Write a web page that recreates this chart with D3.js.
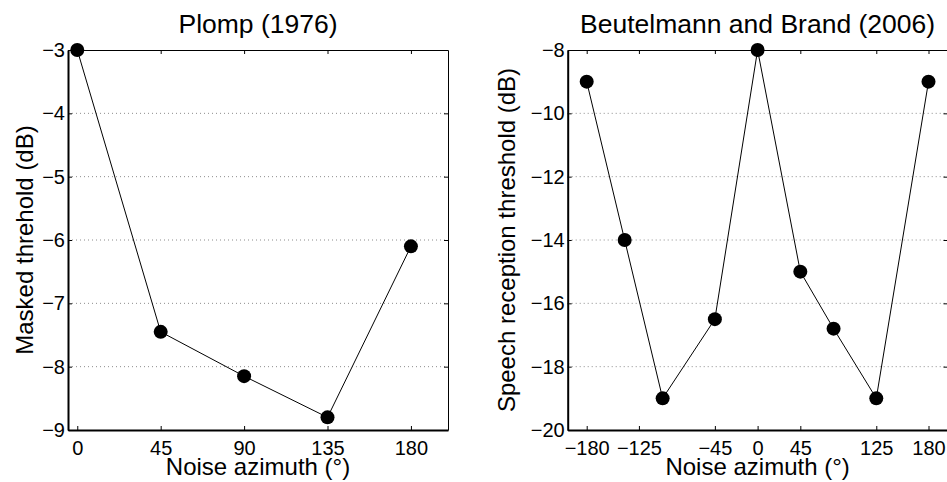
<!DOCTYPE html>
<meta charset="utf-8">
<script src="https://d3js.org/d3.v7.min.js"></script>
<style>
  body { margin: 0; background: #fff; }
  text { font-family: "Liberation Sans", Arial, Helvetica, sans-serif; fill: #000; }
</style>
<svg id="chart"></svg>
<script>

// Left panel: Plomp (1976)
var plompAzimuth = [0, 45, 90, 135, 180];
var plompThreshold = [-3, -7.45, -8.15, -8.8, -6.1];
var plompXTicks = [0, 45, 90, 135, 180];
var plompYTicks = [-9, -8, -7, -6, -5, -4, -3];

// Right panel: Beutelmann and Brand (2006)
var bbAzimuth = [-180, -140, -100, -45, 0, 45, 80, 125, 180];
var bbThreshold = [-9, -14, -19, -16.5, -8, -15, -16.8, -19, -9];
var bbXTicks = [-180, -125, -45, 0, 45, 125, 180];
var bbYTicks = [-20, -18, -16, -14, -12, -10, -8];

var width = 947, height = 482;
var top0 = 50, bottom0 = 430;

var svg = d3.select("#chart")
  .attr("width", width)
  .attr("height", height);

svg.append("rect").attr("width", width).attr("height", height).attr("fill", "#fff");

function panel(opt) {
  var x = d3.scaleLinear().domain(opt.xDomain).range([opt.left, opt.right]);
  var y = d3.scaleLinear().domain(opt.yDomain).range([bottom0, top0]);
  var fmt = d3.format("d");
  var g = svg.append("g");

  // dotted grid on y ticks
  g.append("g")
    .selectAll("line")
    .data(opt.yTicks.filter(function (d) { return d > opt.yDomain[0] && d < opt.yDomain[1]; }))
    .enter().append("line")
      .attr("x1", opt.left).attr("x2", opt.right)
      .attr("y1", function (d) { return y(d); })
      .attr("y2", function (d) { return y(d); })
      .attr("stroke", "#8c8c8c")
      .attr("stroke-width", 1)
      .attr("stroke-dasharray", "1,3");

  // axes (ticks pointing inward)
  var bottomAx = g.append("g")
    .attr("transform", "translate(0," + bottom0 + ")")
    .call(d3.axisBottom(x).tickValues(opt.xTicks).tickFormat(fmt).tickSize(-4).tickSizeOuter(0).tickPadding(11));
  var topAx = g.append("g")
    .attr("transform", "translate(0," + top0 + ")")
    .call(d3.axisTop(x).tickValues(opt.xTicks).tickFormat("").tickSize(-4).tickSizeOuter(0));
  var leftAx = g.append("g")
    .attr("transform", "translate(" + opt.left + ",0)")
    .call(d3.axisLeft(y).tickValues(opt.yTicks).tickFormat(fmt).tickSize(-4).tickSizeOuter(0).tickPadding(3));
  var rightAx = g.append("g")
    .attr("transform", "translate(" + opt.right + ",0)")
    .call(d3.axisRight(y).tickValues(opt.yTicks).tickFormat("").tickSize(-4).tickSizeOuter(0));

  g.selectAll(".tick text").style("font-size", "20px").attr("fill", "#000");
  g.selectAll(".domain").attr("stroke", "#000");
  g.selectAll(".tick line").attr("stroke", "#000");
  bottomAx.select(".domain").attr("stroke-width", 2);
  leftAx.select(".domain").attr("stroke-width", 2);
  topAx.select(".domain").attr("stroke-width", 1);
  rightAx.select(".domain").attr("stroke-width", 1);

  // data line and markers
  var pts = opt.xs.map(function (d, i) { return [d, opt.ys[i]]; });
  g.append("path")
    .datum(pts)
    .attr("fill", "none")
    .attr("stroke", "#000")
    .attr("stroke-width", 1)
    .attr("d", d3.line().x(function (d) { return x(d[0]); }).y(function (d) { return y(d[1]); }));

  g.append("g")
    .selectAll("circle")
    .data(pts)
    .enter().append("circle")
      .attr("cx", function (d) { return x(d[0]); })
      .attr("cy", function (d) { return y(d[1]); })
      .attr("r", 7)
      .attr("fill", "#000");

  var cx = (opt.left + opt.right) / 2;
  g.append("text")
    .attr("x", cx).attr("y", 33)
    .attr("text-anchor", "middle")
    .style("font-size", "26.5px")
    .text(opt.title);

  g.append("text")
    .attr("x", cx).attr("y", 475)
    .attr("text-anchor", "middle")
    .style("font-size", "24px")
    .text("Noise azimuth (\u00b0)");

  g.append("text")
    .attr("transform", "translate(" + opt.yLabelX + "," + (top0 + bottom0) / 2 + ") rotate(-90)")
    .attr("text-anchor", "middle")
    .style("font-size", "24px")
    .text(opt.yLabel);
}

panel({
  left: 68, right: 448,
  xDomain: [-5, 200], yDomain: [-9, -3],
  xTicks: plompXTicks, yTicks: plompYTicks,
  xs: plompAzimuth, ys: plompThreshold,
  title: "Plomp (1976)",
  yLabel: "Masked threhold (dB)",
  yLabelX: 33
});

panel({
  left: 567.7, right: 947.5,
  xDomain: [-200, 200], yDomain: [-20, -8],
  xTicks: bbXTicks, yTicks: bbYTicks,
  xs: bbAzimuth, ys: bbThreshold,
  title: "Beutelmann and Brand (2006)",
  yLabel: "Speech reception threshold (dB)",
  yLabelX: 515
});

</script>
